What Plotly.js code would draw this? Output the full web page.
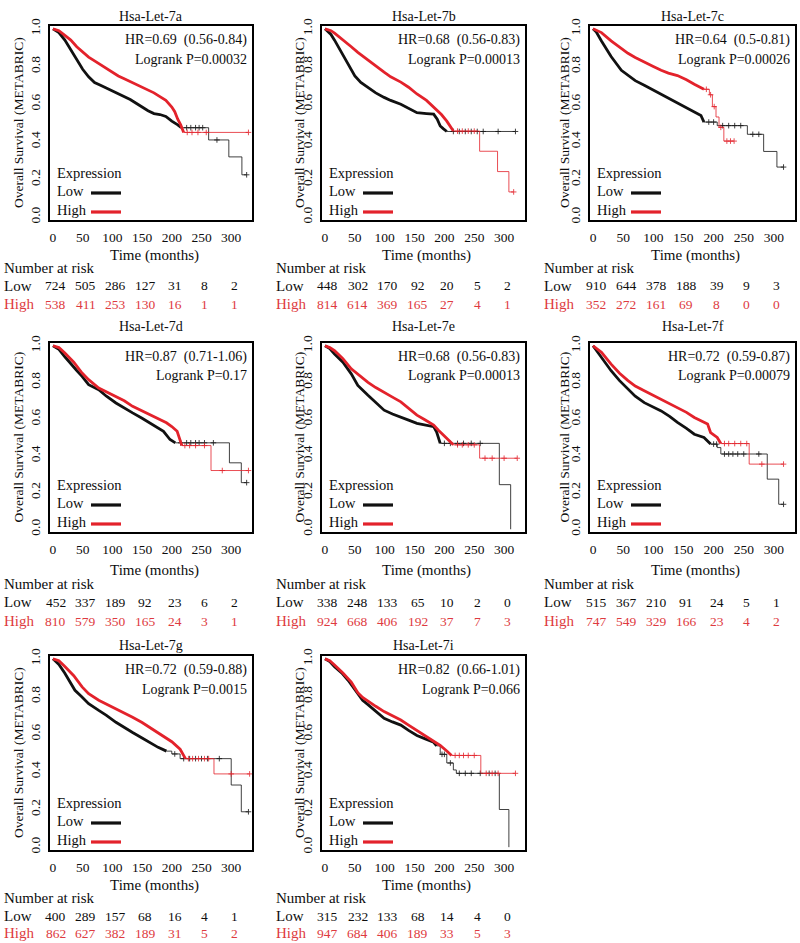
<!DOCTYPE html>
<html><head><meta charset="utf-8">
<script src="https://cdn.plot.ly/plotly-3.0.1.min.js"></script>
<style>html,body{margin:0;padding:0;background:#fff}#chart{width:800px;height:943px}</style>
</head><body><div id="chart"></div>
<script>
// ---------------- DATA ----------------
const riskTimes = [0, 50, 100, 150, 200, 250, 300];
const panelNames = ['Hsa-Let-7a','Hsa-Let-7b','Hsa-Let-7c','Hsa-Let-7d','Hsa-Let-7e','Hsa-Let-7f','Hsa-Let-7g','Hsa-Let-7i'];
const hrText = ['HR=0.69  (0.56-0.84)','HR=0.68  (0.56-0.83)','HR=0.64  (0.5-0.81)','HR=0.87  (0.71-1.06)',
                'HR=0.68  (0.56-0.83)','HR=0.72  (0.59-0.87)','HR=0.72  (0.59-0.88)','HR=0.82  (0.66-1.01)'];
const logrankText = ['Logrank P=0.00032','Logrank P=0.00013','Logrank P=0.00026','Logrank P=0.17',
                     'Logrank P=0.00013','Logrank P=0.00079','Logrank P=0.0015','Logrank P=0.066'];

// Let-7a
const a_low_t  = [0,10,20,30,40,50,60,70,80,90,100,110,120,130,140,150,160,170,180,190,200,210,216,262,296,318,326];
const a_low_s  = [1.0,0.98,0.94,0.89,0.835,0.785,0.745,0.715,0.70,0.685,0.67,0.655,0.64,0.625,0.605,0.585,0.565,0.55,0.545,0.535,0.51,0.49,0.475,0.41,0.32,0.225,0.225];
const a_low_c  = [225,232,240,246,252,276,326];
const a_high_t = [0,10,20,30,40,50,60,70,80,90,100,110,120,130,140,150,160,170,180,190,200,205,210,215,220,329];
const a_high_s = [1.0,0.99,0.965,0.94,0.905,0.875,0.85,0.83,0.81,0.79,0.77,0.75,0.735,0.72,0.705,0.69,0.675,0.66,0.64,0.62,0.585,0.56,0.52,0.49,0.45,0.45];
const a_high_c = [226,234,244,258,329];
const a_risk_low  = [724,505,286,127,31,8,2];
const a_risk_high = [538,411,253,130,16,1,1];
// Let-7b
const b_low_t  = [0,10,16,25,33,40,50,60,72,85,99,110,127,140,154,170,182,188,193,198,204,319];
const b_low_s  = [1.0,0.97,0.94,0.89,0.84,0.80,0.75,0.715,0.69,0.66,0.636,0.62,0.60,0.58,0.555,0.55,0.547,0.52,0.484,0.47,0.455,0.455];
const b_low_c  = [215,225,235,245,255,265,290,319];
const b_high_t = [0,10,16,25,35,44,55,72,85,99,110,127,140,154,170,182,195,204,210,215,259,289,308,316];
const b_high_s = [1.0,0.99,0.977,0.955,0.93,0.905,0.875,0.833,0.80,0.77,0.745,0.717,0.69,0.654,0.62,0.582,0.545,0.51,0.48,0.457,0.35,0.242,0.134,0.134];
const b_high_c = [222,230,240,250,316];
const b_risk_low  = [448,302,170,92,20,5,2];
const b_risk_high = [814,614,369,165,27,4,1];
// Let-7c
const c_low_t  = [0,5,14,30,47,58,70,85,100,113,125,140,155,168,179,184,206,256,283,305,316];
const c_low_s  = [1.0,0.985,0.935,0.853,0.78,0.752,0.725,0.70,0.675,0.65,0.63,0.605,0.58,0.56,0.54,0.505,0.486,0.44,0.349,0.266,0.266];
const c_low_c  = [192,200,215,225,235,245,265,275,316];
const c_high_t = [0,14,30,45,58,70,85,100,113,125,140,155,168,184,193,198,204,209,217,234];
const c_high_s = [1.0,0.98,0.936,0.90,0.87,0.848,0.826,0.80,0.78,0.765,0.752,0.73,0.706,0.679,0.65,0.587,0.532,0.477,0.404,0.404];
const c_high_c = [188,195,201,212,222,228,234];
const c_risk_low  = [910,644,378,188,39,9,3];
const c_risk_high = [352,272,161,69,8,0,0];
// Let-7d
const d_low_t  = [0,10,20,30,40,49,60,77,90,106,120,134,150,163,175,186,197,206,297,317,326];
const d_low_s  = [1.0,0.98,0.94,0.90,0.865,0.833,0.788,0.76,0.725,0.688,0.66,0.634,0.605,0.58,0.555,0.534,0.489,0.471,0.362,0.254,0.254];
const d_low_c  = [215,225,232,240,246,255,270,326];
const d_high_t = [0,10,20,35,49,60,77,90,106,120,134,150,163,177,191,200,209,217,266,329];
const d_high_s = [1.0,0.99,0.96,0.91,0.851,0.815,0.77,0.75,0.725,0.70,0.67,0.645,0.625,0.60,0.58,0.56,0.534,0.456,0.32,0.32];
const d_high_c = [222,230,240,255,285,329];
const d_risk_low  = [452,337,189,92,23,6,2];
const d_risk_high = [810,579,350,165,24,3,1];
// Let-7e
const e_low_t  = [0,8,16,30,44,55,72,85,99,113,127,140,154,170,182,187,193,292,311];
const e_low_s  = [1.0,0.985,0.955,0.91,0.847,0.784,0.73,0.69,0.649,0.628,0.613,0.595,0.577,0.565,0.559,0.53,0.468,0.243,0];
const e_low_c  = [200,210,222,232,245,260];
const e_high_t = [0,8,16,30,44,58,72,85,99,113,127,140,154,168,182,190,198,206,215,259,322];
const e_high_s = [1.0,0.99,0.973,0.93,0.874,0.835,0.80,0.772,0.748,0.72,0.694,0.66,0.622,0.595,0.568,0.54,0.514,0.485,0.46,0.387,0.387];
const e_high_c = [222,230,240,250,268,280,300,322];
const e_risk_low  = [338,248,133,65,10,2,0];
const e_risk_high = [924,668,406,192,37,7,3];
// Let-7f
const f_low_t  = [0,14,30,44,58,70,85,100,113,127,140,155,168,184,195,206,212,289,308,316];
const f_low_s  = [1.0,0.936,0.864,0.81,0.764,0.725,0.69,0.665,0.645,0.615,0.582,0.55,0.518,0.50,0.464,0.445,0.41,0.273,0.136,0.136];
const f_low_c  = [200,205,218,225,232,240,250,275,316];
const f_high_t = [0,14,30,44,58,70,85,100,113,127,140,155,168,180,190,195,206,212,259,316];
const f_high_s = [1.0,0.964,0.90,0.85,0.81,0.78,0.755,0.73,0.71,0.688,0.664,0.637,0.609,0.59,0.573,0.527,0.50,0.467,0.355,0.355];
const f_high_c = [218,225,235,245,255,280,316];
const f_risk_low  = [515,367,210,91,24,5,1];
const f_risk_high = [747,549,329,166,23,4,2];
// Let-7g
const g_low_t  = [0,10,20,30,37,48,60,77,90,106,120,134,150,163,177,191,200,214,300,317,329];
const g_low_s  = [1.0,0.97,0.923,0.87,0.833,0.80,0.762,0.726,0.70,0.663,0.635,0.609,0.58,0.556,0.53,0.51,0.495,0.47,0.33,0.188,0.188];
const g_low_c  = [205,220,230,240,250,260,280,329];
const g_high_t = [0,10,20,35,49,60,77,90,106,120,134,150,163,177,191,200,214,223,271,331];
const g_high_s = [1.0,0.99,0.959,0.91,0.851,0.815,0.78,0.76,0.735,0.71,0.69,0.662,0.636,0.61,0.582,0.56,0.52,0.47,0.389,0.389];
const g_high_c = [228,235,245,255,262,300,331];
const g_risk_low  = [400,289,157,68,16,4,1];
const g_risk_high = [862,627,382,189,31,5,2];
// Let-7i
const i_low_t  = [0,8,16,28,39,47,55,63,72,85,99,113,127,140,154,168,182,187,193,204,215,220,292,308];
const i_low_s  = [1.0,0.985,0.958,0.925,0.885,0.85,0.812,0.78,0.757,0.72,0.684,0.665,0.648,0.62,0.593,0.575,0.557,0.538,0.493,0.447,0.41,0.392,0.2,0];
const i_low_c  = [196,200,210,225,235,245,260,275,285];
const i_high_t = [0,8,16,30,44,55,63,72,85,99,113,127,140,154,168,182,193,204,212,261,319];
const i_high_s = [1.0,0.99,0.967,0.925,0.876,0.82,0.795,0.775,0.748,0.72,0.697,0.675,0.648,0.62,0.593,0.566,0.54,0.511,0.487,0.392,0.392];
const i_high_c = [218,225,232,240,250,270,280,290,319];
const i_risk_low  = [315,232,133,68,14,4,0];
const i_risk_high = [947,684,406,189,33,5,3];

// time up to which each curve is drawn thick (dense censoring)
const denseEndLow  = [216,204,184,206,193,195,191,187];
const denseEndHigh = [220,215,184,217,215,212,223,212];

// ---------------- LAYOUT ----------------
const W = 800, H = 943;
const colLeft = [50, 322, 590], colRight = [252, 525, 795];
const rowTop = [26, 343, 656], rowBottom = [220, 532, 850];
const titleY = [16, 327, 645], timeY = [255, 570, 885];
const numRiskY = [268, 584, 898], lowY = [286, 602, 916], highY = [304, 621, 933];
const yTitleX = [18, 299, 564];
const FONT = 'Liberation Serif, Times New Roman, serif';
const TXT = '#0d0d0d';
const BLACK = '#111111', RED = '#e3222b', TABRED = '#de3a40';

const panels = [
  [a_low_t,a_low_s,a_low_c,a_high_t,a_high_s,a_high_c,a_risk_low,a_risk_high],
  [b_low_t,b_low_s,b_low_c,b_high_t,b_high_s,b_high_c,b_risk_low,b_risk_high],
  [c_low_t,c_low_s,c_low_c,c_high_t,c_high_s,c_high_c,c_risk_low,c_risk_high],
  [d_low_t,d_low_s,d_low_c,d_high_t,d_high_s,d_high_c,d_risk_low,d_risk_high],
  [e_low_t,e_low_s,e_low_c,e_high_t,e_high_s,e_high_c,e_risk_low,e_risk_high],
  [f_low_t,f_low_s,f_low_c,f_high_t,f_high_s,f_high_c,f_risk_low,f_risk_high],
  [g_low_t,g_low_s,g_low_c,g_high_t,g_high_s,g_high_c,g_risk_low,g_risk_high],
  [i_low_t,i_low_s,i_low_c,i_high_t,i_high_s,i_high_c,i_risk_low,i_risk_high]
];

const px = x => x / W;
const py = y => 1 - y / H;
function stepAt(t, s, c) { let v = s[0]; for (let k = 0; k < t.length; k++) { if (t[k] <= c) v = s[k]; } return v; }

const traces = [], annotations = [], shapes = [];
const layout = {
  width: W, height: H, margin: {l:0, r:0, t:0, b:0}, showlegend: false,
  paper_bgcolor: '#fff', plot_bgcolor: '#fff', font: {family: FONT, color: TXT}
};

function addCurve(t, s, c, dEnd, color, xa, ya, thickTraces) {
  const di = t.indexOf(dEnd);
  traces.push({x: t.slice(di), y: s.slice(di), xaxis: xa, yaxis: ya, mode: 'lines',
    line: {color: color, width: 1, shape: 'hv'}, opacity: 0.8, hoverinfo: 'skip'});
  traces.push({x: c, y: c.map(v => stepAt(t, s, v)), xaxis: xa, yaxis: ya, mode: 'markers',
    marker: {symbol: 'cross-thin', size: 4, line: {color: color, width: 1}}, opacity: 0.8, hoverinfo: 'skip'});
  thickTraces.push({x: t.slice(0, di + 1), y: s.slice(0, di + 1), xaxis: xa, yaxis: ya, mode: 'lines',
    line: {color: color, width: 2.8, shape: 'linear'}, hoverinfo: 'skip'});
}

const thick = [];
panels.forEach((p, i) => {
  const r = Math.floor(i / 3), col = i % 3;
  const n = i === 0 ? '' : String(i + 1);
  const xa = 'x' + n, ya = 'y' + n;
  layout['xaxis' + n] = {
    domain: [px(colLeft[col]), px(colRight[col])], anchor: ya, range: [-5, 335],
    tickvals: riskTimes, ticks: 'outside', ticklen: 4, tickcolor: 'rgba(0,0,0,0)',
    showline: true, mirror: true, linewidth: 2, linecolor: '#000',
    showgrid: false, zeroline: false, fixedrange: true,
    tickfont: {family: FONT, size: 13.5, color: TXT}
  };
  layout['yaxis' + n] = {
    domain: [py(rowBottom[r]), py(rowTop[r])], anchor: xa, range: [-0.015, 1.015],
    tickvals: [0, 0.2, 0.4, 0.6, 0.8, 1.0], tickformat: '.1f', tickangle: -90,
    ticks: 'outside', ticklen: 3, tickcolor: 'rgba(0,0,0,0)',
    showline: true, mirror: true, linewidth: 2, linecolor: '#000',
    showgrid: false, zeroline: false, fixedrange: true,
    tickfont: {family: FONT, size: 13.5, color: TXT}
  };
  const [lt, ls, lc, ht, hs, hc, rl, rh] = p;
  addCurve(lt, ls, lc, denseEndLow[i], BLACK, xa, ya, thick);
  addCurve(ht, hs, hc, denseEndHigh[i], RED, xa, ya, thick);

  const cx = (colLeft[col] + colRight[col]) / 2;
  const A = (o) => annotations.push(Object.assign({showarrow: false, xref: 'paper', yref: 'paper'}, o));
  A({x: px(cx), y: py(titleY[r]), text: panelNames[i], xanchor: 'center', yanchor: 'middle', font: {size: 14, family: FONT, color: TXT}});
  A({x: px(colRight[col] - 3), y: py(rowTop[r] + 14), text: hrText[i].replace(/  /g, '&nbsp;&nbsp;'), xanchor: 'right', yanchor: 'middle', font: {size: 14, family: FONT, color: TXT}});
  A({x: px(colRight[col] - 3), y: py(rowTop[r] + 33), text: logrankText[i], xanchor: 'right', yanchor: 'middle', font: {size: 14, family: FONT, color: TXT}});
  A({x: px(colLeft[col] + 5), y: py(rowBottom[r] - 47), text: 'Expression', xanchor: 'left', yanchor: 'middle', font: {size: 14.5, family: FONT, color: TXT}});
  A({x: px(colLeft[col] + 5), y: py(rowBottom[r] - 29), text: 'Low', xanchor: 'left', yanchor: 'middle', font: {size: 14.5, family: FONT, color: TXT}});
  A({x: px(colLeft[col] + 5), y: py(rowBottom[r] - 10), text: 'High', xanchor: 'left', yanchor: 'middle', font: {size: 14.5, family: FONT, color: TXT}});
  shapes.push({type: 'line', xref: 'paper', yref: 'paper', x0: px(colLeft[col] + 41), x1: px(colLeft[col] + 71),
    y0: py(rowBottom[r] - 27), y1: py(rowBottom[r] - 27), line: {color: BLACK, width: 3.2}});
  shapes.push({type: 'line', xref: 'paper', yref: 'paper', x0: px(colLeft[col] + 41), x1: px(colLeft[col] + 71),
    y0: py(rowBottom[r] - 8), y1: py(rowBottom[r] - 8), line: {color: RED, width: 3.2}});
  A({x: px(yTitleX[col]), y: py((rowTop[r] + rowBottom[r]) / 2), text: 'Overall Survival (METABRIC)', textangle: -90,
     xanchor: 'center', yanchor: 'middle', font: {size: 13.5, family: FONT, color: TXT}});
  A({x: px(cx + 3), y: py(timeY[r]), text: 'Time (months)', xanchor: 'center', yanchor: 'middle', font: {size: 15, family: FONT, color: TXT}});
  A({x: px(colLeft[col] - 48), y: py(numRiskY[r]), text: 'Number at risk', xanchor: 'left', yanchor: 'middle', font: {size: 15, family: FONT, color: TXT}});
  A({x: px(colLeft[col] - 48), y: py(lowY[r]), text: 'Low', xanchor: 'left', yanchor: 'middle', font: {size: 15, family: FONT, color: TXT}});
  A({x: px(colLeft[col] - 48), y: py(highY[r]), text: 'High', xanchor: 'left', yanchor: 'middle', font: {size: 15, family: FONT, color: TABRED}});
  riskTimes.forEach((tm, j) => {
    annotations.push({xref: xa, yref: 'paper', x: tm, xshift: 3, y: py(lowY[r]), text: String(rl[j]), showarrow: false,
      xanchor: 'center', yanchor: 'middle', font: {size: 13.5, family: FONT, color: TXT}});
    annotations.push({xref: xa, yref: 'paper', x: tm, xshift: 3, y: py(highY[r]), text: String(rh[j]), showarrow: false,
      xanchor: 'center', yanchor: 'middle', font: {size: 13.5, family: FONT, color: TABRED}});
  });
});

// thick black first, then thick red on top
thick.filter((_, k) => k % 2 === 0).forEach(tr => traces.push(tr));
thick.filter((_, k) => k % 2 === 1).forEach(tr => traces.push(tr));

layout.annotations = annotations;
layout.shapes = shapes;
Plotly.newPlot('chart', traces, layout, {staticPlot: true, displayModeBar: false});
</script>
</body></html>
